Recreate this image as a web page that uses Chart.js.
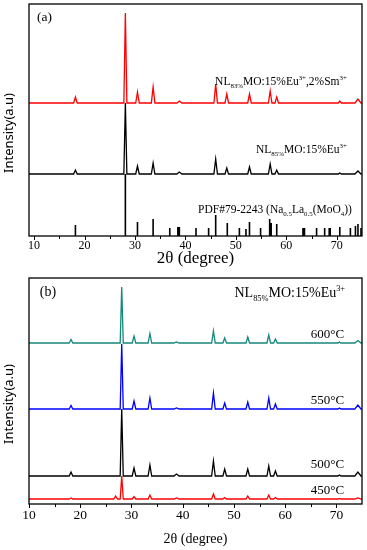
<!DOCTYPE html>
<html>
<head>
<meta charset="utf-8">
<script src="https://cdn.jsdelivr.net/npm/chart.js@4"></script>
<style>
  body { margin: 0; background: #fff; }
  #wrap { position: relative; width: 367px; height: 550px; }
  canvas { position: absolute; left: 0; }
</style>
</head>
<body>
<div id="wrap">
  <canvas id="chartA" width="367" height="275" style="top:0px"></canvas>
  <canvas id="chartB" width="367" height="285" style="top:265px"></canvas>
</div>
<script>
// 2theta grid shared by every measured pattern (each peak: foot, top, foot)
const twoTheta = [9,
    17.85, 18.2, 18.55,
    26.55, 26.9, 27.25,
    27.8, 28.1, 28.4,
    30.15, 30.5, 30.85,
    33.25, 33.6, 33.95,
    38.3, 38.8, 39.3,
    45.65, 46.0, 46.35,
    47.85, 48.2, 48.55,
    52.35, 52.7, 53.05,
    56.45, 56.8, 57.15,
    57.75, 58.1, 58.45,
    70.3, 70.6, 70.9,
    73.6, 74.2, 74.8,
    75];
const xTicks = [10, 15, 20, 25, 30, 35, 40, 45, 50, 55, 60, 65, 70];

// panel (a): intensity above each pattern's own baseline (a.u.)
const smPattern = [0, 0,6,0, 0,0,0, 0,90,0, 0,11,0, 0,16,0, 0,2,0, 0,19,0, 0,9,0, 0,9,0, 0,12,0, 0,6,0, 0,2,0, 0,4,0, 0];
const euPattern = [0, 0,4,0, 0,0,0, 0,71,0, 0,8,0, 0,11,0, 0,2,0, 0,15,0, 0,6,0, 0,7,0, 0,10,0, 0,4,0, 0,1,0, 0,3,0, 0];
const offsetsA = [133, 62];

// standard card PDF#79-2243 sticks
const pdfPos = [18.2, 28.1, 30.5, 33.6, 36.9, 38.5, 38.8, 42.1, 44.6, 46.0, 48.3, 50.7, 52.0, 52.7, 54.9,
    56.7, 57.0, 58.1, 63.3, 63.6, 66.0, 67.6, 68.5, 68.7, 70.6, 72.7, 73.7, 74.2, 74.8];
const pdfInt = [11, 62, 14, 17, 8, 9, 9, 8, 8, 21, 13, 8, 7, 14, 8,
    17, 13, 12, 8, 8, 8, 8, 8, 8, 9, 8, 10, 12, 8];

// panel (b): calcination temperature series
const tempLabels = ['600°C', '550°C', '500°C', '450°C'];
const t600 = [0, 0,3.5,0, 0,0,0, 0,56,0, 0,7,0, 0,9.5,0, 0,1,0, 0,12,0, 0,5,0, 0,6,0, 0,8,0, 0,4,0, 0,1,0, 0,2.5,0, 0];
const t550 = [0, 0,3.5,0, 0,0,0, 0,65,0, 0,8,0, 0,11,0, 0,1,0, 0,16,0, 0,6,0, 0,7,0, 0,11,0, 0,5,0, 0,1,0, 0,4,0, 0];
const t500 = [0, 0,4,0, 0,0,0, 0,67,0, 0,8,0, 0,11,0, 0,2,0, 0,15,0, 0,7,0, 0,7,0, 0,10,0, 0,5,0, 0,1,0, 0,4,0, 0];
const t450 = [0, 0,1,0, 0,3,0, 0,23,0, 0,2.5,0, 0,4,0, 0,1,0, 0,5,0, 0,1.5,0, 0,3,0, 0,4,0, 0,1.5,0, 0,0.5,0, 0,1,0, 0];
const offsetsB = [161, 95, 28, 5];
const tempColors = ['#16877c', '#0000ff', '#000000', '#ff0000'];

const SERIF = "'Liberation Serif', 'Times New Roman', serif";

function toPoints(ys, offset) {
    return twoTheta.map((x, i) => ({x: x, y: ys[i] + offset}));
}

function stickPoints(pos, ints) {
    var pts = [];
    pos.forEach((p, i) => {
        pts.push({x: p, y: 0}, {x: p, y: ints[i]}, {x: p, y: null});
    });
    return pts;
}

function lineSet(data, color) {
    return {data: data, borderColor: color, borderWidth: 1.3, pointRadius: 0, showLine: true, spanGaps: false};
}

// text with sub/superscripts, parts: [{t, s:'sub'|'sup'}]
function drawRich(ctx, parts, x, y, size, align) {
    var w = 0;
    parts.forEach(p => {
        ctx.font = (p.s ? size * 0.6 : size) + 'px ' + SERIF;
        w += ctx.measureText(p.t).width;
    });
    var cx = align === 'left' ? x : x - w;
    parts.forEach(p => {
        var fs = p.s ? size * 0.6 : size;
        ctx.font = fs + 'px ' + SERIF;
        var dy = p.s === 'sub' ? size * 0.3 : (p.s === 'sup' ? -size * 0.42 : 0);
        ctx.fillText(p.t, cx, y + dy);
        cx += ctx.measureText(p.t).width;
    });
}

const panelDecor = {
    id: 'panelDecor',
    afterDraw(chart, args, opts) {
        const ctx = chart.ctx, a = chart.chartArea;
        const xs = chart.scales.x, ys = chart.scales.y;
        ctx.save();
        ctx.strokeStyle = '#000';
        ctx.fillStyle = '#000';
        // tick marks (outward)
        ctx.lineWidth = 1;
        xs.ticks.forEach(t => {
            var px = Math.round(xs.getPixelForValue(t.value)) + 0.5;
            var len = t.value % 10 === 0 ? 4 : 3;
            ctx.beginPath();
            ctx.moveTo(px, a.bottom);
            ctx.lineTo(px, a.bottom + len);
            ctx.stroke();
        });
        // frame
        ctx.lineWidth = 1.3;
        ctx.strokeRect(a.left, a.top, a.right - a.left, a.bottom - a.top);
        // y title
        ctx.save();
        ctx.translate(opts.yTitleX, (a.top + a.bottom) / 2 + opts.yTitleShift);
        ctx.rotate(-Math.PI / 2);
        ctx.font = "13px 'Noto Sans', sans-serif";
        ctx.textAlign = 'center';
        ctx.textBaseline = 'middle';
        ctx.fillText('Intensity(a.u)', 0, 0);
        ctx.restore();
        // labels
        ctx.textBaseline = 'alphabetic';
        ctx.textAlign = 'left';
        opts.labels.forEach(l => {
            drawRich(ctx, l.parts, xs.getPixelForValue(l.x), ys.getPixelForValue(l.y), l.size, l.align);
        });
        ctx.restore();
    }
};

function xAxis(min, axisH, tickSize, tickPad, titleSize, titlePad) {
    return {
        type: 'linear', min: min, max: 75,
        afterBuildTicks: s => { s.ticks = xTicks.map(v => ({value: v})); },
        afterFit: s => { s.height = axisH; },
        grid: {display: false, drawTicks: false},
        border: {display: false},
        ticks: {
            autoSkip: false, maxRotation: 0, padding: tickPad, color: '#000',
            font: {family: SERIF, size: tickSize},
            callback: v => (v % 10 === 0 ? v : '')
        },
        title: {
            display: true, text: '2θ (degree)', color: '#000',
            font: {family: SERIF, size: titleSize},
            padding: {top: 0, bottom: titlePad}
        }
    };
}

const eu = [{t: 'NL'}, {t: '85%', s: 'sub'}, {t: 'MO:15%Eu'}, {t: '3+', s: 'sup'}];

new Chart(document.getElementById('chartA'), {
    type: 'scatter',
    data: {
        datasets: [
            lineSet(toPoints(smPattern, offsetsA[0]), '#ff0000'),
            lineSet(toPoints(euPattern, offsetsA[1]), '#000000'),
            Object.assign(lineSet(stickPoints(pdfPos, pdfInt), '#000000'), {borderWidth: 1.6})
        ]
    },
    options: {
        responsive: false, animation: false, events: [],
        layout: {padding: {left: 29, right: 5, top: 4, bottom: 0}},
        scales: {
            x: xAxis(9, 39, 12, 3, 17, 6),
            y: {display: false, min: 0, max: 232}
        },
        plugins: {
            legend: {display: false}, tooltip: {enabled: false},
            panelDecor: {
                yTitleX: 9, yTitleShift: 13,
                labels: [
                    {parts: [{t: '(a)'}], x: 10.6, y: 215, size: 13.5, align: 'left'},
                    {parts: [{t: 'NL'}, {t: '83%', s: 'sub'}, {t: 'MO:15%Eu'}, {t: '3+', s: 'sup'},
                        {t: ',2%Sm'}, {t: '3+', s: 'sup'}], x: 72.0, y: 151, size: 11.5},
                    {parts: eu, x: 72.0, y: 83, size: 11.5},
                    {parts: [{t: 'PDF#79-2243 (Na'}, {t: '0.5', s: 'sub'}, {t: 'La'}, {t: '0.5', s: 'sub'},
                        {t: '(MoO'}, {t: '4', s: 'sub'}, {t: '))'}], x: 73.0, y: 23, size: 11.5}
                ]
            }
        }
    },
    plugins: [panelDecor]
});

const tempSets = [t600, t550, t500, t450].map((s, i) => lineSet(toPoints(s, offsetsB[i]), tempColors[i]));
const tempLabelY = [166, 100, 36, 10];

new Chart(document.getElementById('chartB'), {
    type: 'scatter',
    data: {datasets: tempSets},
    options: {
        responsive: false, animation: false, events: [],
        layout: {padding: {left: 29, right: 5, top: 13, bottom: 0}},
        scales: {
            x: xAxis(10, 46, 13.5, 3, 14, 2),
            y: {display: false, min: 0, max: 226}
        },
        plugins: {
            legend: {display: false}, tooltip: {enabled: false},
            panelDecor: {
                yTitleX: 9, yTitleShift: 13,
                labels: [
                    {parts: [{t: '(b)'}], x: 12.1, y: 208, size: 14, align: 'left'},
                    {parts: eu, x: 71.7, y: 207, size: 14}
                ].concat(tempLabels.map((t, i) => ({parts: [{t: t}], x: 71.5, y: tempLabelY[i], size: 13})))
            }
        }
    },
    plugins: [panelDecor]
});
</script>
</body>
</html>
